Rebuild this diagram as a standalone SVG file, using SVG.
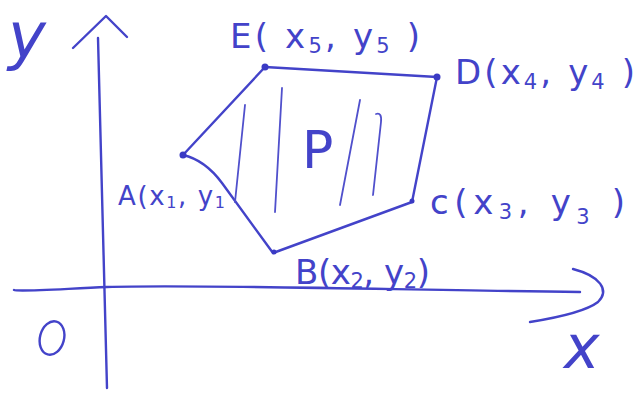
<svg xmlns="http://www.w3.org/2000/svg" width="644" height="393" viewBox="0 0 644 393">
<style>
.ln{fill:none;stroke:#4343c9;stroke-width:2.4;stroke-linecap:round;stroke-linejoin:round}
.hl{fill:none;stroke:#5050cc;stroke-width:1.8;stroke-linecap:round}
.t{font-family:"DejaVu Sans","Liberation Sans",sans-serif;fill:#4343c9;font-size:34px}
.s{font-size:21px}
.dot{fill:#3a3ac4}
</style>
<rect width="644" height="393" fill="#ffffff"/>
<g id="axes">
<path class="ln" d="M98,38 C100,120 103,250 107,388"/>
<path class="ln" d="M73,48 L106,16 L127,37"/>
<path class="ln" d="M14,290 C18,292 60,289 107,287 C200,284 400,290 580,292"/>
<path class="ln" d="M573,269 C600,276 610,290 598,302 C585,312 555,318 530,322"/>
<text class="t" x="8" y="58" style="font-size:64px;font-style:italic">y</text>
<ellipse class="ln" cx="52" cy="338" rx="12" ry="17" transform="rotate(15 52 338)"/>
<text class="t" x="564" y="368" style="font-size:60px;font-style:italic">x</text>
</g>
<g id="polygon">
<path class="ln" d="M183,155 L265,67 L437,77 L412,202 L273,253 L222,183 Q205,160 183,155 Z"/>
<circle class="dot" cx="183" cy="155" r="3.5"/>
<circle class="dot" cx="265" cy="67" r="3.5"/>
<circle class="dot" cx="437" cy="77" r="3.5"/>
<circle class="dot" cx="412" cy="201" r="2.5"/>
<circle class="dot" cx="274" cy="252" r="2.5"/>
</g>
<g id="hatch">
<path class="hl" d="M245,105 L235,202"/>
<path class="hl" d="M282,88 L275,212"/>
<path class="hl" d="M360,100 L340,205"/>
<path class="hl" d="M376,114 Q382,112 381,122 L373,195"/>
<text class="t" x="302" y="168" style="font-size:52px">P</text>
</g>
<g id="labels">
<text class="t" x="230" y="48" textLength="190" lengthAdjust="spacing">E( x<tspan class="s" dy="5">5</tspan><tspan dy="-5">, y</tspan><tspan class="s" dy="5">5</tspan><tspan dy="-5"> )</tspan></text>
<text class="t" x="455" y="84" textLength="180" lengthAdjust="spacing">D(x<tspan class="s" dy="5">4</tspan><tspan dy="-5">, y</tspan><tspan class="s" dy="5">4</tspan><tspan dy="-5"> )</tspan></text>
<text class="t" x="430" y="214" textLength="195" lengthAdjust="spacing">c(x<tspan class="s" dy="5">3</tspan><tspan dy="-5">, y</tspan><tspan class="s" dy="10">3</tspan><tspan dy="-10"> )</tspan></text>
<text class="t" x="295" y="284" textLength="135" lengthAdjust="spacing">B(x<tspan class="s" dy="4">2</tspan><tspan dy="-4">, y</tspan><tspan class="s" dy="4">2</tspan><tspan dy="-4">)</tspan></text>
<text class="t" x="118" y="205" style="font-size:26px" textLength="107" lengthAdjust="spacing">A(x<tspan style="font-size:16px" dy="3">1</tspan><tspan dy="-3">, y</tspan><tspan style="font-size:16px" dy="3">1</tspan></text>
</g>
</svg>
